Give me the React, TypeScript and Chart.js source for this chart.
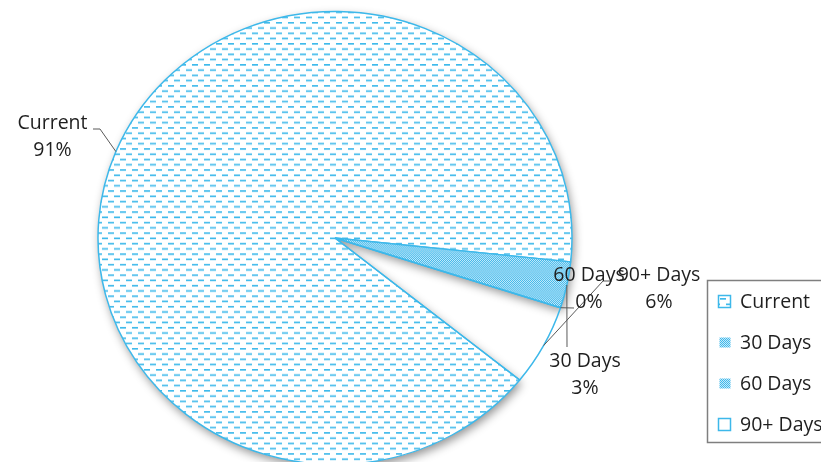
import React, { useEffect, useRef } from "react";
import { Chart, registerables } from "chart.js";

Chart.register(...registerables);

// ---- data ----
const categories = ["Current", "30 Days", "60 Days", "90+ Days"];
const shares = [90.9, 3.3, 0.0, 5.8];

// ---- style ----
const BLUE = "#3DB8EA";
const TEXT = "#1F1F1F";
const LEADER = "#595959";
const FONT_SIZE = 19.5;
const FONT = `${FONT_SIZE}px "Open Sans"`;
const LINE_GAP = 27;
const ELLIPSE_Y = 0.956;

// data label layout: text centre x, first baseline y
const labelPos = [
  { x: 52.5, y: 128.5 },
  { x: 585, y: 367 },
  { x: 589, y: 281 },
  { x: 659, y: 281 },
];
// fixed leader-line points (from label side), the last point is the slice edge
const leaderFixed: number[][][] = [
  [[93, 129], [100, 129]],
  [[567, 347]],
  [[574, 308]],
  [[612, 281], [603, 281]],
];
const legendBox = { x: 707.5, y: 280.5, w: 140, h: 162 };
const legendBaselines = [308, 349, 390, 431];

function makeDashPattern(ctx: CanvasRenderingContext2D): CanvasPattern {
  const c = document.createElement("canvas");
  c.width = 12;
  c.height = 11;
  const g = c.getContext("2d")!;
  g.fillStyle = "#ffffff";
  g.fillRect(0, 0, 12, 11);
  g.fillStyle = "#3FBAEB";
  g.fillRect(0, 1, 6, 1.7);
  g.fillRect(6, 6.5, 6, 1.7);
  return ctx.createPattern(c, "repeat")!;
}

function makeDotPattern(ctx: CanvasRenderingContext2D): CanvasPattern {
  const c = document.createElement("canvas");
  c.width = 2;
  c.height = 2;
  const g = c.getContext("2d")!;
  g.fillStyle = "#C4EAFA";
  g.fillRect(0, 0, 2, 2);
  g.fillStyle = "#42B8EA";
  g.fillRect(0, 0, 1, 1);
  g.fillRect(1, 1, 1, 1);
  return ctx.createPattern(c, "repeat")!;
}

function pct(i: number): string {
  const total = shares.reduce((a, b) => a + b, 0);
  return Math.round((shares[i] / total) * 100) + "%";
}

export default function App() {
  const ref = useRef<HTMLCanvasElement | null>(null);

  useEffect(() => {
    const canvas = ref.current!;
    const ctx0 = canvas.getContext("2d")!;
    const dash = makeDashPattern(ctx0);
    const dot = makeDotPattern(ctx0);
    const fills: any[] = [dash, dot, dot, "rgba(255,255,255,0)"];

    const piePlugin = {
      id: "piePlugin",
      beforeDatasetsDraw(chart: any) {
        const ctx = chart.ctx as CanvasRenderingContext2D;
        const meta = chart.getDatasetMeta(0);
        const c = meta.data[0].getProps(["x", "y"], true);
        ctx.save();
        ctx.translate(c.x, c.y);
        ctx.scale(1, ELLIPSE_Y);
        ctx.translate(-c.x, -c.y);
        meta.data.forEach((el: any, i: number) => {
          const p = el.getProps(["x", "y", "startAngle", "endAngle", "outerRadius"], true);
          if (i === 3 || p.endAngle - p.startAngle <= 0) return;
          ctx.save();
          ctx.shadowColor = "rgba(0,0,0,0.42)";
          ctx.shadowBlur = 10;
          ctx.shadowOffsetX = 2;
          ctx.shadowOffsetY = 4;
          ctx.fillStyle = "#ffffff";
          ctx.beginPath();
          ctx.moveTo(p.x, p.y);
          ctx.arc(p.x, p.y, p.outerRadius, p.startAngle, p.endAngle);
          ctx.closePath();
          ctx.fill();
          ctx.restore();
        });
      },
      afterDatasetsDraw(chart: any) {
        chart.ctx.restore();
      },
      afterDraw(chart: any) {
        const ctx = chart.ctx as CanvasRenderingContext2D;
        const meta = chart.getDatasetMeta(0);
        ctx.save();
        // leader lines
        ctx.strokeStyle = LEADER;
        ctx.lineWidth = 1;
        meta.data.forEach((el: any, i: number) => {
          const p = el.getProps(["x", "y", "startAngle", "endAngle", "outerRadius"], true);
          const a = (p.startAngle + p.endAngle) / 2;
          const ex = p.x + p.outerRadius * Math.cos(a);
          const ey = p.y + p.outerRadius * ELLIPSE_Y * Math.sin(a);
          const pts = leaderFixed[i];
          ctx.beginPath();
          ctx.moveTo(pts[0][0], pts[0][1]);
          for (let k = 1; k < pts.length; k++) ctx.lineTo(pts[k][0], pts[k][1]);
          ctx.lineTo(ex, ey);
          ctx.stroke();
        });
        // data labels
        ctx.fillStyle = TEXT;
        ctx.font = FONT;
        ctx.textAlign = "center";
        ctx.textBaseline = "alphabetic";
        categories.forEach((name, i) => {
          const lp = labelPos[i];
          ctx.fillText(name, lp.x, lp.y);
          ctx.fillText(pct(i), lp.x, lp.y + LINE_GAP);
        });
        // legend
        ctx.strokeStyle = "#7F7F7F";
        ctx.lineWidth = 1.5;
        ctx.strokeRect(legendBox.x, legendBox.y, legendBox.w, legendBox.h);
        ctx.textAlign = "left";
        categories.forEach((name, i) => {
          const by = legendBaselines[i];
          const ix = 718.5;
          const iy = by - 12.5;
          if (i === 0) {
            ctx.fillStyle = dash;
            ctx.fillRect(ix, iy, 12, 12);
            ctx.strokeStyle = BLUE;
            ctx.lineWidth = 1.5;
            ctx.strokeRect(ix, iy, 12, 12);
          } else if (i === 3) {
            ctx.fillStyle = "#ffffff";
            ctx.fillRect(ix, iy, 12, 12);
            ctx.strokeStyle = BLUE;
            ctx.lineWidth = 1.5;
            ctx.strokeRect(ix, iy, 12, 12);
          } else {
            ctx.fillStyle = dot;
            ctx.fillRect(ix + 1, iy + 1, 11, 10);
          }
          ctx.fillStyle = TEXT;
          ctx.fillText(name, 740, by);
        });
        ctx.restore();
      },
    };

    const chart = new Chart(canvas, {
      type: "pie",
      data: {
        labels: categories,
        datasets: [
          {
            data: shares,
            backgroundColor: fills,
            borderColor: BLUE,
            borderWidth: 1.5,
            clip: false as any,
          } as any,
        ],
      },
      options: {
        animation: false,
        responsive: false,
        devicePixelRatio: 1,
        events: [],
        radius: 237,
        rotation: 128.8,
        layout: { padding: { left: 0, right: 151, top: 14, bottom: 0 } },
        plugins: { legend: { display: false }, tooltip: { enabled: false } },
      } as any,
      plugins: [piePlugin],
    });
    return () => chart.destroy();
  }, []);

  return (
    <div style={{ position: "absolute", left: 0, top: 0, width: 821, height: 462, background: "#ffffff" }}>
      <canvas ref={ref} width={821} height={462} style={{ display: "block" }} />
    </div>
  );
}
